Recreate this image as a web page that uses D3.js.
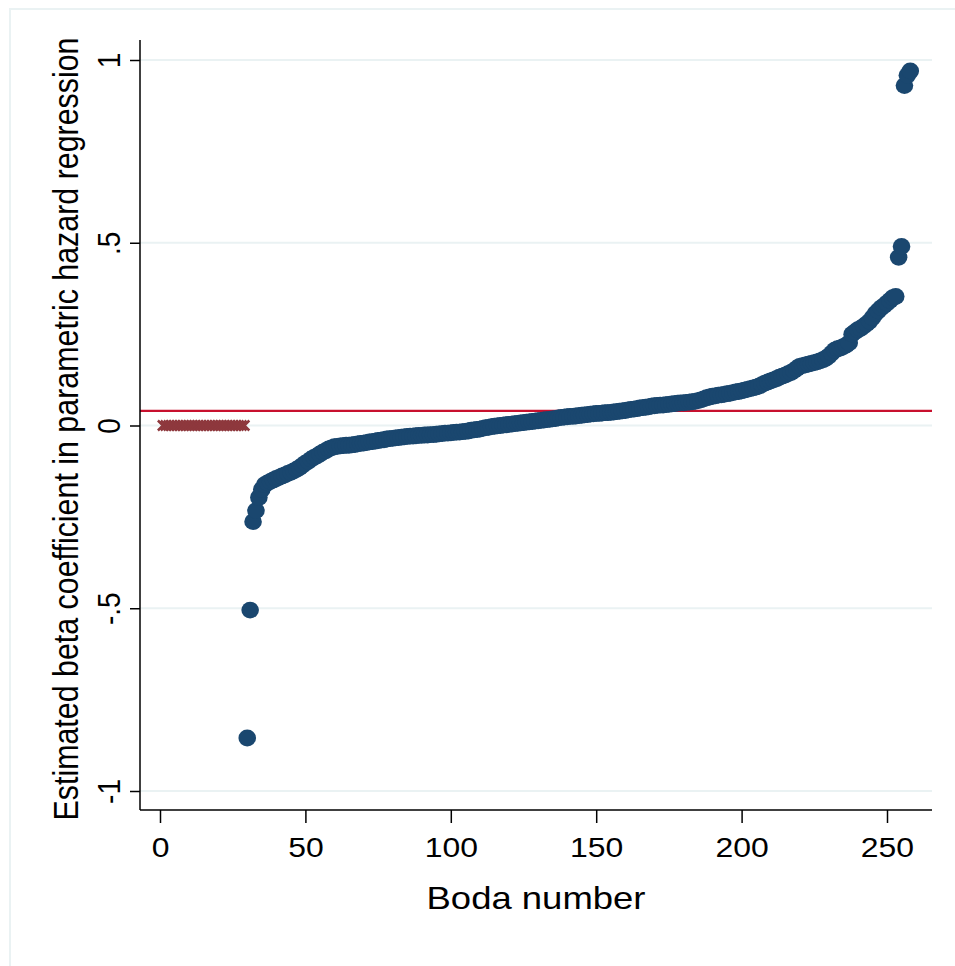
<!DOCTYPE html>
<html>
<head>
<meta charset="utf-8">
<script src="https://cdn.jsdelivr.net/npm/d3@7/dist/d3.min.js"></script>
<style>
html,body{margin:0;padding:0;background:#fff;}
svg{display:block;}
text{font-family:"Liberation Sans",Arial,sans-serif;fill:#000;}
</style>
</head>
<body>
<svg id="chart" width="955" height="966"></svg>
<script>
// ---- data ----
const xTicks = [0, 50, 100, 150, 200, 250];
const yTicks = [-1, -0.5, 0, 0.5, 1];
const yTickLabels = ["-1", "-.5", "0", ".5", "1"];
const refLineValue = 0.04;
// bodas with no estimate (marked with x at zero)
const zeroBodas = [1,2,3,4,5,6,7,8,9,10,11,12,13,14,15,16,17,18,19,20,21,22,23,24,25,26,27,28,29];
const zeroValues = zeroBodas.map(() => 0);
// estimated coefficients, bodas 30..258 (sorted)
const bodaStart = 30;
const betaValues = [
 -0.855,-0.505,-0.263,-0.233,-0.197,-0.175,-0.162,-0.157,-0.153,-0.149,
 -0.145,-0.142,-0.138,-0.135,-0.131,-0.128,-0.124,-0.120,-0.115,-0.109,
 -0.103,-0.098,-0.092,-0.087,-0.083,-0.078,-0.073,-0.069,-0.064,-0.061,
 -0.058,-0.057,-0.056,-0.055,-0.054,-0.054,-0.053,-0.052,-0.050,-0.049,
 -0.048,-0.047,-0.045,-0.044,-0.043,-0.041,-0.040,-0.039,-0.037,-0.036,
 -0.035,-0.034,-0.033,-0.032,-0.031,-0.030,-0.029,-0.029,-0.028,-0.027,
 -0.027,-0.026,-0.026,-0.025,-0.025,-0.024,-0.023,-0.022,-0.021,-0.021,
 -0.020,-0.019,-0.018,-0.018,-0.017,-0.016,-0.015,-0.013,-0.012,-0.011,
 -0.010,-0.008,-0.006,-0.005,-0.003,-0.002,-0.001,0.000,0.001,0.002,
 0.003,0.004,0.005,0.006,0.007,0.008,0.009,0.010,0.011,0.012,
 0.013,0.014,0.015,0.016,0.017,0.018,0.019,0.021,0.022,0.023,
 0.024,0.025,0.025,0.026,0.027,0.028,0.029,0.030,0.031,0.032,
 0.033,0.033,0.034,0.035,0.035,0.036,0.037,0.038,0.039,0.040,
 0.041,0.043,0.044,0.045,0.046,0.048,0.049,0.050,0.051,0.053,
 0.054,0.055,0.056,0.056,0.057,0.058,0.059,0.060,0.061,0.062,
 0.062,0.063,0.064,0.065,0.066,0.068,0.070,0.073,0.076,0.078,
 0.080,0.081,0.083,0.084,0.085,0.087,0.088,0.090,0.092,0.093,
 0.095,0.097,0.099,0.101,0.103,0.105,0.108,0.112,0.116,0.119,
 0.122,0.125,0.128,0.132,0.135,0.138,0.142,0.145,0.150,0.156,
 0.162,0.164,0.166,0.168,0.170,0.172,0.174,0.177,0.180,0.184,
 0.190,0.198,0.206,0.210,0.212,0.216,0.220,0.226,0.250,0.256,
 0.262,0.266,0.272,0.278,0.285,0.295,0.306,0.314,0.322,0.328,
 0.335,0.342,0.350,0.353,0.460,0.490,0.930,0.958,0.970
];
const xTitle = "Boda number";
const yTitle = "Estimated beta coefficient in parametric hazard regression";

// ---- layout ----
const svg = d3.select("#chart");
const plotLeft = 140, plotRight = 932, plotTop = 40, plotBottom = 810;
const stretch = 1.14; // horizontal glyph stretch seen in the reference

const x = d3.scaleLinear().domain([0, 250]).range([160, 887]);
const y = d3.scaleLinear().domain([-1, 1]).range([791, 60]);

svg.append("rect").attr("width", 955).attr("height", 966).attr("fill", "#fff");
// outer frame
svg.append("rect").attr("x", 10).attr("y", 9).attr("width", 1000).attr("height", 1000)
  .attr("fill", "none").attr("stroke", "#EAF2F3").attr("stroke-width", 2);

// gridlines
svg.append("g").selectAll("line").data(yTicks).join("line")
  .attr("x1", plotLeft).attr("x2", plotRight)
  .attr("y1", d => y(d)).attr("y2", d => y(d))
  .attr("stroke", "#EAF2F3").attr("stroke-width", 2);

// reference line
svg.append("line")
  .attr("x1", plotLeft).attr("x2", plotRight)
  .attr("y1", y(refLineValue)).attr("y2", y(refLineValue))
  .attr("stroke", "#C8102E").attr("stroke-width", 2.2);

// x markers
svg.append("g").selectAll("path").data(zeroBodas.map((b, i) => [b, zeroValues[i]])).join("path")
  .attr("transform", d => `translate(${x(d[0])},${y(d[1])})`)
  .attr("d", "M-5,-5L5,5M-5,5L5,-5")
  .attr("stroke", "#8E383D").attr("stroke-width", 2.5).attr("fill", "none");

// dots
svg.append("g").selectAll("ellipse").data(betaValues.map((v, i) => [bodaStart + i, v])).join("ellipse")
  .attr("cx", d => x(d[0])).attr("cy", d => y(d[1])).attr("rx", 8.8).attr("ry", 8.4)
  .attr("fill", "#1A476F");

// y axis
const yAxis = d3.axisLeft(y).tickValues(yTicks).tickSize(10).tickFormat((d, i) => yTickLabels[i]);
const gy = svg.append("g").attr("transform", `translate(${plotLeft},0)`).call(yAxis);
gy.select(".domain").remove();
gy.selectAll(".tick line").attr("stroke", "#000").attr("stroke-width", 1.5);
gy.selectAll(".tick text")
  .attr("font-size", 28).attr("font-family", "Liberation Sans, Arial, sans-serif")
  .attr("text-anchor", "middle").attr("x", 0).attr("dy", 0)
  .attr("transform", `translate(-20,0) scale(${stretch},1) rotate(-90)`);
svg.append("line").attr("x1", plotLeft).attr("x2", plotLeft).attr("y1", plotTop).attr("y2", plotBottom)
  .attr("stroke", "#000").attr("stroke-width", 1.5);

// x axis
const xAxis = d3.axisBottom(x).tickValues(xTicks).tickSize(13).tickFormat(d3.format("d"));
const gx = svg.append("g").attr("transform", `translate(0,${plotBottom})`).call(xAxis);
gx.select(".domain").remove();
gx.selectAll(".tick line").attr("stroke", "#000").attr("stroke-width", 1.5);
gx.selectAll(".tick text")
  .attr("font-size", 28).attr("font-family", "Liberation Sans, Arial, sans-serif")
  .attr("y", 0).attr("dy", 0).attr("transform", `translate(0,47) scale(${stretch},1)`);
svg.append("line").attr("x1", plotLeft).attr("x2", plotRight).attr("y1", plotBottom).attr("y2", plotBottom)
  .attr("stroke", "#000").attr("stroke-width", 1.5);

// titles
svg.append("text").attr("transform", `translate(${(plotLeft + plotRight) / 2},909) scale(${stretch},1)`)
  .attr("text-anchor", "middle").attr("font-size", 32).text(xTitle);
svg.append("text").attr("transform", `translate(78,429) scale(${stretch},1) rotate(-90)`)
  .attr("text-anchor", "middle").attr("font-size", 30.4).text(yTitle);
</script>
</body>
</html>
